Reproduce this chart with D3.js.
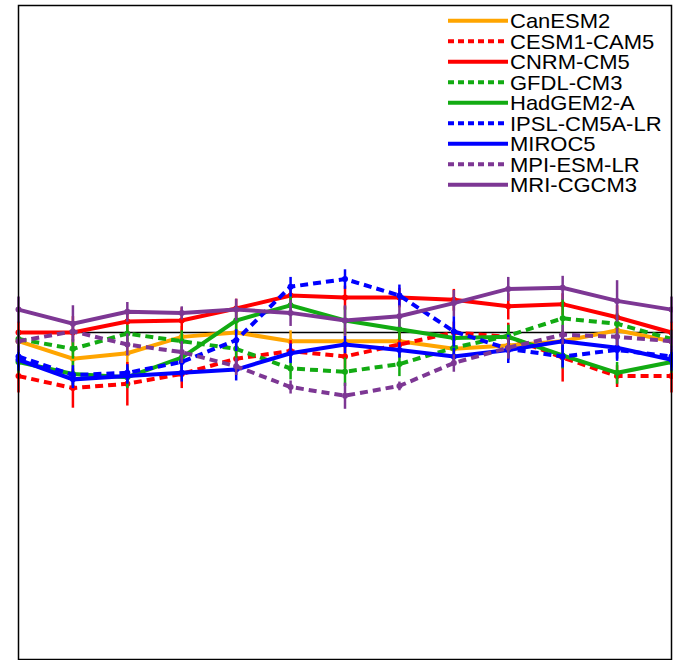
<!DOCTYPE html>
<html>
<head>
<meta charset="utf-8">
<script src="https://cdn.jsdelivr.net/npm/d3@7"></script>
<style>
    body { margin: 0; background: #fff; }
    svg { display: block; }
    text { font-family: "Liberation Sans", Arial, sans-serif; }
</style>
</head>
<body>
<svg id="chart" width="673" height="660"></svg>
<script>
const steps = [0, 1, 2, 3, 4, 5, 6, 7, 8, 9, 10, 11, 12];

const models = ["CanESM2", "CESM1-CAM5", "CNRM-CM5", "GFDL-CM3", "HadGEM2-A",
    "IPSL-CM5A-LR", "MIROC5", "MPI-ESM-LR", "MRI-CGCM3"];

const canesm2 = [-0.8, -2.4, -1.9, -0.4, 0.0, -0.8, -0.8, -0.8, -1.5, -1.2, -0.8, 0.2, -0.8];
const cesm1 = [-4.0, -5.1, -4.7, -3.8, -2.4, -1.7, -2.2, -1.1, 0.0, -0.4, -2.3, -4.0, -4.0];
const cnrm = [0.0, 0.0, 1.0, 1.1, 2.2, 3.4, 3.2, 3.2, 3.0, 2.4, 2.6, 1.4, 0.0];
const gfdl = [-0.6, -1.5, -0.1, -0.8, -1.5, -3.3, -3.6, -2.9, -1.4, -0.3, 1.3, 0.8, -0.6];
const hadgem2 = [-2.7, -3.8, -4.1, -2.3, 1.1, 2.5, 1.1, 0.3, -0.5, -0.4, -2.1, -3.7, -2.7];
const ipsl = [-2.2, -3.9, -3.7, -2.7, -0.7, 4.2, 4.9, 3.4, 0.1, -1.5, -2.2, -1.6, -2.2];
const miroc5 = [-2.5, -4.3, -4.0, -3.7, -3.4, -1.9, -1.1, -1.6, -2.2, -1.6, -0.8, -1.4, -2.5];
const mpi = [-0.8, 0.1, -1.1, -1.8, -3.1, -5.0, -5.8, -4.9, -2.8, -1.4, -0.2, -0.4, -0.8];
const mri = [2.1, 0.8, 1.9, 1.8, 2.1, 1.8, 1.1, 1.5, 2.7, 4.0, 4.1, 2.9, 2.1];

// half-length of the error bars
const canesm2Err = [1.0, 1.5, 1.4, 1.0, 1.0, 1.0, 1.2, 1.0, 1.0, 1.1, 1.0, 1.5, 1.0];
const cesm1Err = [1.5, 1.8, 2.0, 1.3, 1.2, 1.0, 1.1, 1.2, 1.0, 1.3, 2.2, 1.0, 1.5];
const cnrmErr = [1.0, 1.5, 1.0, 1.2, 0.9, 1.0, 1.1, 0.9, 1.0, 1.2, 1.0, 1.1, 1.0];
const gfdlErr = [0.8, 0.9, 0.8, 1.0, 0.9, 1.0, 1.3, 1.1, 1.0, 1.0, 1.8, 1.0, 0.8];
const hadgem2Err = [1.0, 1.2, 1.0, 1.1, 1.2, 1.0, 1.3, 1.0, 1.0, 1.1, 1.2, 1.0, 1.0];
const ipslErr = [1.0, 0.9, 0.8, 1.0, 1.0, 0.9, 0.9, 1.0, 1.4, 1.3, 1.0, 1.0, 1.0];
const miroc5Err = [1.0, 0.8, 0.7, 0.8, 1.0, 0.9, 0.8, 0.7, 0.8, 0.9, 0.8, 1.0, 1.0];
const mpiErr = [1.0, 0.9, 1.0, 1.0, 0.8, 0.6, 1.2, 0.4, 0.8, 1.0, 0.9, 0.8, 1.0];
const mriErr = [1.2, 1.7, 0.9, 0.6, 1.0, 1.2, 1.4, 1.0, 1.2, 1.1, 1.1, 1.9, 1.2];

const yDomain = [-30, 30];

const seriesValues = [canesm2, cesm1, cnrm, gfdl, hadgem2, ipsl, miroc5, mpi, mri];
const seriesErrors = [canesm2Err, cesm1Err, cnrmErr, gfdlErr, hadgem2Err, ipslErr, miroc5Err, mpiErr, mriErr];

const styles = {
    "CanESM2": { color: "#ffa500", dashed: false },
    "CESM1-CAM5": { color: "#ff0000", dashed: true },
    "CNRM-CM5": { color: "#ff0000", dashed: false },
    "GFDL-CM3": { color: "#12ab12", dashed: true },
    "HadGEM2-A": { color: "#12ab12", dashed: false },
    "IPSL-CM5A-LR": { color: "#0000ff", dashed: true },
    "MIROC5": { color: "#0000ff", dashed: false },
    "MPI-ESM-LR": { color: "#7d3794", dashed: true },
    "MRI-CGCM3": { color: "#7d3794", dashed: false }
};

const plotLeft = 18.5, plotRight = 671.5, plotTop = 5.5, plotBottom = 659.5;
const svg = d3.select("#chart");

const xScale = d3.scaleLinear().domain(d3.extent(steps)).range([plotLeft, plotRight]);
const yScale = d3.scaleLinear().domain(yDomain).range([plotBottom, plotTop]);

// zero line
svg.append("line")
    .attr("x1", plotLeft).attr("x2", plotRight)
    .attr("y1", yScale(0)).attr("y2", yScale(0))
    .attr("stroke", "#000").attr("stroke-width", 1.5);

const line = d3.line()
    .x(function (d) { return xScale(d.x); })
    .y(function (d) { return yScale(d.y); });

const plot = svg.append("g");

models.forEach(function (name, k) {
    const st = styles[name];
    const pts = steps.map(function (s, i) {
        return { x: s, y: seriesValues[k][i], e: seriesErrors[k][i] };
    });
    const g = plot.append("g");

    g.selectAll("line.err")
        .data(pts)
        .join("line")
        .attr("class", "err")
        .attr("x1", function (d) { return xScale(d.x); })
        .attr("x2", function (d) { return xScale(d.x); })
        .attr("y1", function (d) { return yScale(d.y - d.e); })
        .attr("y2", function (d) { return yScale(d.y + d.e); })
        .attr("stroke", st.color)
        .attr("stroke-width", 2.5);

    g.append("path")
        .datum(pts)
        .attr("d", line)
        .attr("fill", "none")
        .attr("stroke", st.color)
        .attr("stroke-width", 4)
        .attr("stroke-dasharray", st.dashed ? "8,5" : null);

    g.selectAll("circle")
        .data(pts)
        .join("circle")
        .attr("cx", function (d) { return xScale(d.x); })
        .attr("cy", function (d) { return yScale(d.y); })
        .attr("r", 3)
        .attr("fill", st.color);
});

// frame
svg.append("rect")
    .attr("x", plotLeft).attr("y", plotTop)
    .attr("width", plotRight - plotLeft).attr("height", plotBottom - plotTop)
    .attr("fill", "none")
    .attr("stroke", "#000")
    .attr("stroke-width", 1.5);

// legend (text is a bit wider than the font normally draws it)
const legend = svg.append("g").attr("transform", "translate(448, 20.7)");
models.forEach(function (name, k) {
    const st = styles[name];
    const row = legend.append("g").attr("transform", `translate(0, ${k * 20.5})`);
    row.append("line")
        .attr("x1", 0).attr("x2", 60)
        .attr("stroke", st.color)
        .attr("stroke-width", 4)
        .attr("stroke-dasharray", st.dashed ? "6,4" : null);
    row.append("text")
        .attr("transform", "translate(62, 7.5) scale(1.1, 1)")
        .attr("font-size", 20)
        .text(name);
});
</script>
</body>
</html>
